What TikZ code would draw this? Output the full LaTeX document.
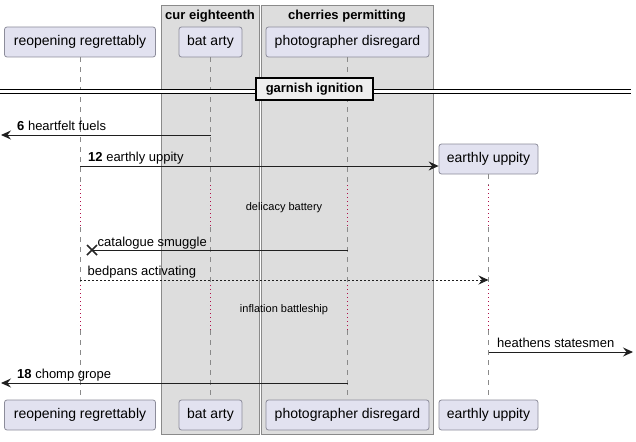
\documentclass[tikz,border=0pt]{standalone}
\usepackage{fontspec}
\setmainfont{Liberation Sans}
\usetikzlibrary{arrows.meta}
\definecolor{partfill}{HTML}{E2E2F0}
\definecolor{partdraw}{HTML}{8C8C9A}
\definecolor{grpfill}{HTML}{DDDDDD}
\definecolor{grpdraw}{HTML}{8A8A8A}
\definecolor{lifegray}{HTML}{8A8A8A}
\definecolor{delayred}{HTML}{B0104A}
\definecolor{divfill}{HTML}{EEEEEE}
\begin{document}
\begin{tikzpicture}[x=1pt,y=-1pt,
  part/.style={draw=partdraw, fill=partfill, rounded corners=2.5pt, minimum height=30pt, inner sep=0pt, line width=0.8pt, font=\fontsize{14}{16}\selectfont},
  grp/.style={draw=grpdraw, fill=grpfill, line width=1pt},
  grptitle/.style={anchor=base, inner sep=0pt, font=\fontsize{13}{15}\selectfont\bfseries},
  life/.style={draw=lifegray, dash pattern=on 5pt off 5pt, line width=0.8pt},
  delayline/.style={draw=delayred, dash pattern=on 1.3pt off 2.7pt, line width=1pt},
  msg/.style={draw=black!88, line width=1pt, -{Stealth[length=10pt,width=9pt,inset=3.5pt]}},
  plainmsg/.style={draw=black!88, line width=1pt},
  lbl/.style={anchor=base west, inner sep=0pt, font=\fontsize{13}{15}\selectfont},
  delaytxt/.style={inner sep=0pt, font=\fontsize{11}{13}\selectfont},
  divbox/.style={draw=black, fill=divfill, line width=2pt, minimum width=117pt, minimum height=22pt, inner sep=0pt, font=\fontsize{13}{15}\selectfont\bfseries}
]
\useasboundingbox (0,0) rectangle (636,441);

% groups
\path[grp] (161,6) rectangle (259,434);
\path[grp] (261,6) rectangle (433,434);
\node[grptitle] (g1) at (210,19.5) {cur eighteenth};
\node[grptitle] (g2) at (347,19.5) {cherries permitting};

% participants top
\node[part, minimum width=151pt] (rtT) at (80,42) {reopening regrettably};
\node[part, minimum width=63pt] (baT) at (210.5,42) {bat arty};
\node[part, minimum width=163pt] (phT) at (347.5,42) {photographer disregard};
\node[part, minimum width=99pt] (euT) at (488.5,159) {earthly uppity};
% participants bottom
\node[part, minimum width=151pt] (rtB) at (80,415) {reopening regrettably};
\node[part, minimum width=63pt] (baB) at (210.5,415) {bat arty};
\node[part, minimum width=163pt] (phB) at (347.5,415) {photographer disregard};
\node[part, minimum width=99pt] (euB) at (488.5,415) {earthly uppity};

% delay levels
\coordinate (d1a) at (0,185);
\coordinate (d1b) at (0,227);
\coordinate (d2a) at (0,285);
\coordinate (d2b) at (0,330);

% lifelines
\foreach \p in {rt,ba,ph,eu}{
  \draw[life] (\p T.south) -- (\p T.south |- d1a);
  \draw[delayline] (\p T.south |- d1a) -- (\p T.south |- d1b);
  \draw[life] (\p T.south |- d1b) -- (\p T.south |- d2a);
  \draw[delayline] (\p T.south |- d2a) -- (\p T.south |- d2b);
  \draw[life] (\p T.south |- d2b) -- (\p B.north);
}

% divider
\coordinate (divL) at (0,91.3);
\coordinate (divR) at (631,91.3);
\draw[line width=1pt, double distance=3pt] (divL) -- (divR);
\node[divbox] (div) at (314.5,89.5) {garnish ignition};

% message 6
\coordinate (m6L) at (1,135);
\draw[msg] (baT.south |- m6L) -- (m6L);
\node[lbl] (t6) at (17,130.5) {\textbf{6} heartfelt fuels};

% message 12
\coordinate (m12) at (0,166);
\draw[msg] (rtT.south |- m12) -- (euT.west |- m12);
\node[lbl] (t12) at (88,161) {\textbf{12} earthly uppity};

% delay 1
\node[delaytxt] (dl1) at (284,208) {delicacy battery};

% catalogue smuggle
\coordinate (X) at (92,250);
\draw[plainmsg] (phT.south |- X) -- (X);
\draw[line width=1.7pt, black!85] (X) ++(-5,-5) -- ++(10,10) (X) ++(-5,5) -- ++(10,-10);
\node[lbl] (tc) at (97.5,246) {catalogue smuggle};

% bedpans activating
\coordinate (mb) at (0,280);
\draw[msg, dash pattern=on 2pt off 2pt] (rtT.south |- mb) -- (euT.south |- mb);
\node[lbl] (tb) at (87.5,275.5) {bedpans activating};

% delay 2
\node[delaytxt] (dl2) at (284,310) {inflation battleship};

% heathens statesmen
\coordinate (mhR) at (633,352);
\draw[msg] (euT.south |- mhR) -- (mhR);
\node[lbl] (th) at (497,347.5) {heathens statesmen};

% message 18
\coordinate (m18L) at (1,383);
\draw[msg] (phT.south |- m18L) -- (m18L);
\node[lbl] (t18) at (17,378.5) {\textbf{18} chomp grope};
\end{tikzpicture}
\end{document}
